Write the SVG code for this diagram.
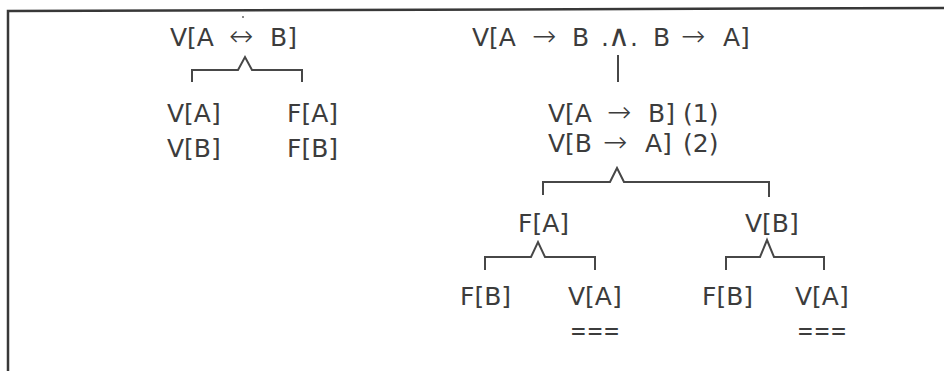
<svg xmlns="http://www.w3.org/2000/svg" width="944" height="371" viewBox="0 0 944 371">
  <style>
    text { font-family: "DejaVu Sans", "Liberation Sans", sans-serif; font-size: 25px; fill: #3c3c3c; }
    .arr { font-size: 29px; font-weight: 200; }
    .wedge { font-size: 30px; font-weight: 200; }
    .ln { fill: none; stroke: #474747; stroke-width: 2; stroke-linejoin: miter; }
    .frame { fill: none; stroke: #383838; stroke-width: 2.5; }
  </style>
  <rect width="944" height="371" fill="#ffffff"/>
  <!-- frame: top and left rules only -->
  <path class="frame" d="M8,371 L8,11 L944,8"/>
  <circle cx="243" cy="17" r="1" fill="#666"/>

  <!-- connectors -->
  <g id="connectors">
    <path class="ln" d="M192,82 V70 H238 L245,57 L252,70 H302 V82"/>
    <path class="ln" d="M618,55 V82"/>
    <path class="ln" d="M543,195 V182 H610 L617,168 L624,182 H769 V197"/>
    <path class="ln" d="M485,270 V257 H531 L538,242 L545,257 H595 V270"/>
    <path class="ln" d="M726,270 V257 H760 L767,240 L774,257 H824 V270"/>
  </g>

  <!-- left tree -->
  <g id="root-left">
    <text y="46"><tspan x="229" class="arr" font-size="26">↔</tspan><tspan x="170">V[A</tspan><tspan x="270">B]</tspan></text>
  </g>
  <g id="left-branch">
    <text x="167" y="122">V[A]</text>
    <text x="167" y="157">V[B]</text>
  </g>
  <g id="right-branch">
    <text x="287" y="122">F[A]</text>
    <text x="287" y="157">F[B]</text>
  </g>

  <!-- right tree -->
  <g id="root-right">
    <text y="46"><tspan x="472">V[A</tspan><tspan x="532" class="arr">→</tspan><tspan x="572">B</tspan><tspan x="601">.</tspan><tspan x="608" class="wedge">∧</tspan><tspan x="630">.</tspan><tspan x="653">B</tspan><tspan x="681" class="arr">→</tspan><tspan x="723">A]</tspan></text>
  </g>
  <g id="premises">
    <text y="122"><tspan x="548">V[A</tspan><tspan x="607" class="arr">→</tspan><tspan x="648">B]</tspan><tspan x="683">(1)</tspan></text>
    <text y="152"><tspan x="548">V[B</tspan><tspan x="603" class="arr">→</tspan><tspan x="645">A]</tspan><tspan x="683">(2)</tspan></text>
  </g>
  <g id="node-FA">
    <text x="518" y="232">F[A]</text>
  </g>
  <g id="node-VB">
    <text x="745" y="232">V[B]</text>
  </g>
  <g id="leaf-FB-1">
    <text x="460" y="305">F[B]</text>
  </g>
  <g id="leaf-VA-1">
    <text x="568" y="305">V[A]</text>
    <text x="570" y="339" textLength="50" lengthAdjust="spacingAndGlyphs">===</text>
  </g>
  <g id="leaf-FB-2">
    <text x="702" y="305">F[B]</text>
  </g>
  <g id="leaf-VA-2">
    <text x="795" y="305">V[A]</text>
    <text x="797" y="339" textLength="50" lengthAdjust="spacingAndGlyphs">===</text>
  </g>
</svg>
